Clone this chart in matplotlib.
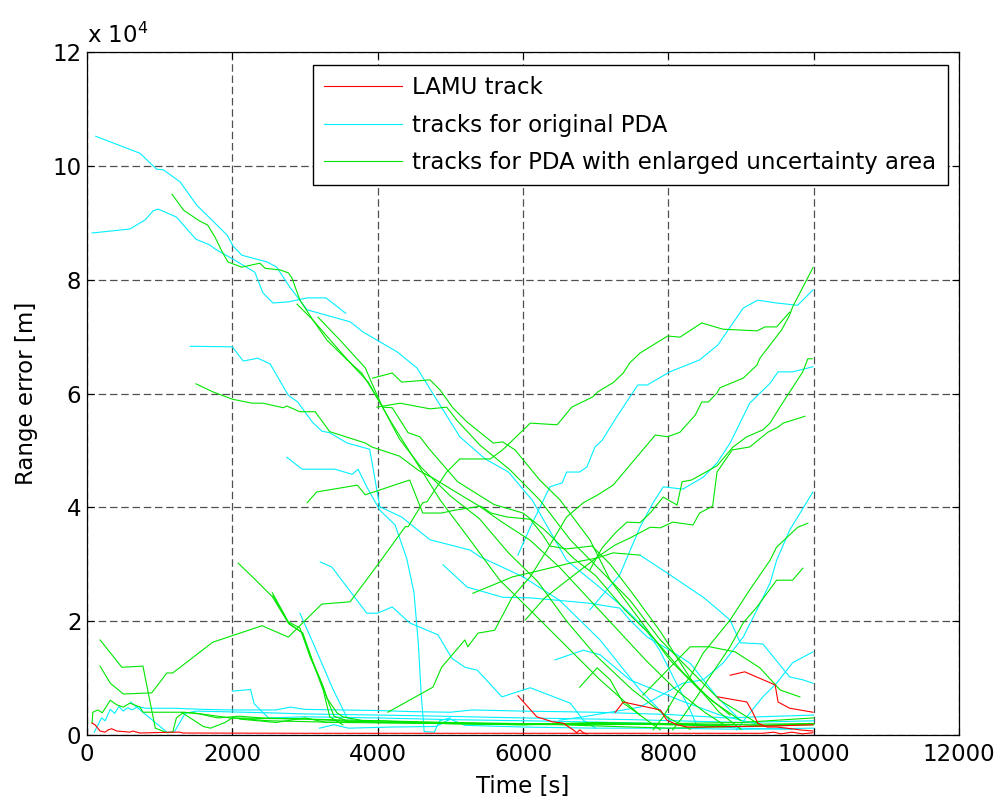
import matplotlib
matplotlib.use("Agg")
import matplotlib.pyplot as plt
from matplotlib.lines import Line2D

# range error in units of 1e4 m, time in s
# --- LAMU tracks (red) ---
lamu_1 = [(70, 0.21), (110, 0.18), (180, 0.07), (250, 0.05), (290, 0.09), (340, 0.11),
          (410, 0.07), (590, 0.05), (630, 0.07), (730, 0.035), (1180, 0.05), (1280, 0.05),
          (1320, 0.035), (3000, 0.03), (6000, 0.03), (9300, 0.03), (9450, 0.05),
          (9550, 0.02), (9700, 0.05), (9850, 0.02), (9990, 0.04)]
lamu_2 = [(5930, 0.69), (6190, 0.32), (6410, 0.23), (6550, 0.21), (6690, 0.09), (6740, 0.04),
          (6780, 0.09), (6830, 0.04), (6880, 0.02)]
lamu_3 = [(7270, 0.40), (7380, 0.58), (7890, 0.44), (7980, 0.26), (8120, 0.18), (8260, 0.14),
          (8390, 0.14), (9000, 0.15), (9500, 0.16), (9990, 0.18)]
lamu_4 = [(8850, 1.05), (9050, 1.11), (9470, 0.88), (9510, 0.58), (9670, 0.47), (9810, 0.44),
          (9990, 0.40)]
lamu_5 = [(8680, 0.67), (9080, 0.58), (9160, 0.40), (9230, 0.21), (9360, 0.14), (9490, 0.14),
          (9630, 0.12), (9810, 0.09), (9990, 0.07)]

# --- original PDA tracks (cyan) ---
pda_01 = [(120, 10.52), (730, 10.22), (960, 9.94), (1050, 9.93), (1280, 9.72), (1510, 9.31),
          (1930, 8.78), (2010, 8.59), (2130, 8.43), (2480, 8.31), (2610, 8.22), (2790, 7.87),
          (3030, 7.47), (3620, 7.26), (3800, 7.08), (4270, 6.73), (4540, 6.45), (5130, 5.24),
          (5480, 4.85), (5800, 4.62), (6130, 4.12), (6600, 3.07), (7050, 2.60), (7430, 2.19),
          (7700, 1.84), (7880, 1.49), (8110, 0.91), (8300, 0.44), (8400, 0.14)]
pda_02 = [(70, 8.82), (590, 8.89), (800, 9.05), (910, 9.21), (980, 9.24), (1230, 9.10),
          (1500, 8.71), (1690, 8.61), (1760, 8.54), (2010, 8.36), (2310, 8.13), (2420, 7.77),
          (2560, 7.59), (2770, 7.61), (3030, 7.68), (3290, 7.68), (3560, 7.41)]
pda_03 = [(1420, 6.83), (2000, 6.82), (2150, 6.57), (2350, 6.62), (2520, 6.52), (2770, 5.97),
          (2900, 5.85), (3100, 5.50), (3230, 5.34), (3340, 5.31), (3580, 5.13), (3890, 5.02),
          (4030, 4.01), (4330, 3.83), (4720, 3.43), (5270, 3.25), (5410, 3.13), (6000, 2.78),
          (6500, 2.37), (7060, 1.67), (7610, 0.79), (8020, 0.26)]
pda_04 = [(2750, 4.88), (2960, 4.67), (3410, 4.67), (3650, 4.58), (3730, 4.67), (3850, 4.36),
          (4030, 3.95), (4240, 3.69), (4400, 3.10), (4500, 2.50), (4560, 1.60), (4600, 0.70),
          (4640, 0.06), (4780, 0.05), (4850, 0.25), (5000, 0.30)]
pda_05 = [(3210, 3.04), (3370, 2.95), (3850, 2.14), (4000, 2.14), (4200, 2.25), (4440, 1.97),
          (4830, 1.76), (5020, 1.35), (5200, 1.19), (5370, 1.14), (5710, 0.67), (6000, 0.79),
          (6100, 0.83), (6650, 0.56), (6830, 0.26), (7000, 0.12)]
pda_06 = [(2930, 2.14), (3110, 1.62), (3390, 0.79), (3580, 0.30), (3650, 0.28)]
pda_07 = [(5930, 3.16), (6100, 3.65), (6370, 4.36), (6540, 4.43), (6600, 4.62), (6780, 4.62),
          (6880, 4.71), (6990, 5.06), (7090, 5.18), (7290, 5.59), (7580, 6.15), (7710, 6.15),
          (8020, 6.38), (8430, 6.59), (8680, 6.85), (9030, 7.50), (9230, 7.64), (9490, 7.59),
          (9780, 7.55), (9990, 7.82)]
pda_08 = [(6920, 2.20), (7330, 2.81), (7610, 3.65), (7790, 4.08), (7930, 4.36), (8200, 4.32),
          (8480, 4.53), (8670, 4.78), (8850, 5.13), (9120, 5.83), (9400, 6.18), (9510, 6.38),
          (9710, 6.38), (9990, 6.47)]
pda_09 = [(6500, 0.26), (6830, 0.32), (7610, 0.49), (8200, 0.91), (8480, 0.97), (8750, 1.26),
          (9030, 1.72), (9220, 2.20), (9400, 2.67), (9490, 3.07), (9670, 3.60), (9990, 4.27)]
pda_10 = [(8940, 0.09), (9080, 0.32), (9300, 0.67), (9490, 0.91), (9710, 1.27), (9990, 1.46)]
pda_11 = [(7610, 3.16), (7980, 2.85), (8480, 2.42), (8640, 2.25), (8850, 2.02), (8990, 1.62),
          (9300, 1.60), (9670, 1.02), (9850, 0.97), (9990, 0.91)]
pda_12 = [(6440, 1.32), (6830, 1.49), (7060, 1.41), (7470, 0.97), (8160, 0.61), (8710, 0.35),
          (9260, 0.18)]
pda_13 = [(4900, 2.99), (5230, 2.60), (5720, 2.42), (6100, 2.41), (6880, 2.32), (7330, 2.23),
          (7470, 2.02), (7710, 1.72), (8020, 1.49), (8300, 1.26), (8670, 0.67), (8990, 0.26)]
pda_14 = [(100, 0.05), (200, 0.30), (250, 0.25), (320, 0.45), (380, 0.38), (440, 0.50),
          (500, 0.42), (560, 0.48), (620, 0.44), (700, 0.50), (800, 0.47), (1200, 0.47),
          (1600, 0.45), (2000, 0.44), (2600, 0.44), (2800, 0.49), (3000, 0.45), (4000, 0.43),
          (4500, 0.41), (5000, 0.40), (5300, 0.44), (6000, 0.42), (7000, 0.40), (8000, 0.36),
          (8800, 0.30), (9500, 0.33), (10000, 0.35)]
pda_15 = [(600, 0.58), (1100, 0.05), (1200, 0.05), (1350, 0.38), (1500, 0.42), (2500, 0.39),
          (3000, 0.37), (4500, 0.34), (6000, 0.30), (7500, 0.27), (9000, 0.22), (10000, 0.25)]
pda_16 = [(2000, 0.77), (2250, 0.80), (2300, 0.55), (2400, 0.42), (2500, 0.30), (3000, 0.32),
          (4000, 0.30), (5000, 0.27), (6500, 0.24), (8000, 0.20), (9000, 0.12), (9700, 0.10)]
pda_17 = [(3200, 0.12), (3400, 0.18), (3600, 0.12), (4200, 0.14), (4800, 0.15), (5000, 0.28),
          (5200, 0.17), (6000, 0.14), (7000, 0.12), (8000, 0.12), (9000, 0.10), (10000, 0.12)]

# --- PDA with enlarged uncertainty area (green) ---
enl_01 = [(1170, 9.50), (1330, 9.22), (1550, 9.03), (1660, 8.96), (1760, 8.75), (1860, 8.49),
          (1940, 8.31), (2130, 8.22), (2380, 8.29), (2450, 8.20), (2660, 8.17), (2770, 8.12),
          (2820, 8.03), (2930, 7.64), (3110, 7.29), (3300, 6.94), (3580, 6.59), (3780, 6.36),
          (3870, 6.18), (4070, 5.76), (4200, 5.75), (4420, 5.31), (4580, 5.24), (4720, 5.01),
          (5100, 4.45), (5600, 4.05), (6000, 3.90), (6300, 3.60), (6700, 3.10), (7000, 2.80),
          (7400, 2.20), (7800, 1.70), (8200, 1.10), (8600, 0.60), (9000, 0.25)]
enl_02 = [(2890, 7.57), (3110, 7.29), (3380, 6.89), (3650, 6.50), (3870, 6.20), (4170, 5.53),
          (4380, 5.10), (4860, 4.13), (5270, 3.43), (5680, 2.72), (5960, 2.37), (6510, 1.67),
          (7060, 0.97), (7610, 0.35), (7890, 0.09)]
enl_03 = [(3180, 7.34), (3480, 6.94), (3830, 6.45), (3920, 6.18), (4060, 5.78), (4300, 5.20),
          (4600, 4.70), (5000, 4.20), (5400, 3.80), (5800, 3.20), (6200, 2.70), (6600, 2.00),
          (7000, 1.40), (7500, 0.80), (8000, 0.30), (8300, 0.10)]
enl_04 = [(3930, 6.27), (4200, 6.36), (4330, 6.20), (4720, 6.24), (4860, 6.06), (5040, 5.74),
          (5230, 5.50), (5590, 5.13), (5720, 5.15), (5890, 5.01), (6230, 4.48), (6510, 4.13),
          (6920, 3.43), (7200, 2.72), (7610, 2.02), (8020, 1.32), (8430, 0.79), (8850, 0.35)]
enl_05 = [(3990, 5.76), (4310, 5.83), (4720, 5.73), (4950, 5.76), (5090, 5.53), (5410, 5.09),
          (5820, 4.66), (6230, 4.13), (6650, 3.43), (7060, 2.90), (7470, 2.37), (7890, 1.67),
          (8300, 1.14), (8710, 0.61), (9260, 0.18)]
enl_06 = [(1500, 6.17), (1730, 6.03), (2000, 5.90), (2270, 5.83), (2420, 5.83), (2700, 5.75),
          (2750, 5.78), (2930, 5.68), (3140, 5.68), (3340, 5.33), (3830, 5.13), (3920, 5.06),
          (4300, 4.90), (4560, 4.65), (4780, 4.50), (5100, 4.25), (5400, 4.02), (5700, 3.75),
          (6100, 3.42), (6500, 2.95), (6900, 2.40), (7300, 1.85), (7700, 1.30), (8100, 0.80),
          (8500, 0.40), (8800, 0.15)]
enl_07 = [(3030, 4.08), (3160, 4.27), (3720, 4.39), (3830, 4.22), (4440, 4.48), (4620, 3.90),
          (4880, 3.90), (5060, 3.95), (5420, 4.02), (5560, 3.90), (5780, 3.83), (6100, 3.79),
          (6280, 3.50), (6370, 3.32), (6600, 3.27), (6950, 3.32), (7200, 3.00), (7500, 2.50),
          (7900, 1.80), (8300, 1.00), (8700, 0.40), (9000, 0.10)]
enl_08 = [(180, 1.21), (320, 0.91), (500, 0.72), (890, 0.74), (1100, 1.09), (1180, 1.09),
          (1730, 1.63), (2410, 1.92), (2770, 1.72), (3230, 2.30), (3620, 2.34), (4000, 2.99),
          (4380, 3.66), (4420, 3.66), (4620, 4.08), (4680, 4.10), (4950, 4.62), (5130, 4.85),
          (5550, 4.85), (5720, 5.01), (6100, 5.48), (6470, 5.45), (6670, 5.76), (6960, 5.94),
          (7030, 6.03), (7240, 6.19), (7380, 6.36), (7470, 6.54), (7610, 6.71), (7990, 7.01),
          (8160, 6.99), (8460, 7.24), (8750, 7.13), (9220, 7.10), (9330, 7.17), (9490, 7.17),
          (9670, 7.43)]
enl_09 = [(4140, 0.40), (4760, 0.84), (4880, 1.19), (5200, 1.67), (5240, 1.55), (5380, 1.79),
          (5610, 1.84), (5850, 2.42), (6100, 2.78), (6330, 3.25), (6470, 3.55), (6600, 3.83),
          (6830, 4.08), (7030, 4.22), (7240, 4.39), (7820, 5.27), (7990, 5.24), (8160, 5.32),
          (8370, 5.62), (8460, 5.85), (8550, 5.85), (8670, 6.01), (8710, 6.10), (9030, 6.27),
          (9220, 6.50), (9260, 6.62), (9560, 7.12), (9670, 7.38), (9710, 7.52), (9990, 8.21)]
enl_10 = [(6920, 2.90), (7090, 3.29), (7270, 3.55), (7430, 3.74), (7610, 3.73), (7750, 3.90),
          (7930, 4.18), (8120, 4.04), (8190, 4.45), (8320, 4.48), (8670, 4.73), (8890, 5.06),
          (9080, 5.24), (9300, 5.36), (9400, 5.48), (9540, 5.77), (9850, 6.38), (9920, 6.61),
          (9980, 6.61)]
enl_11 = [(6030, 2.02), (6300, 2.41), (6650, 2.76), (7060, 3.16), (7270, 3.34), (7470, 3.46),
          (7750, 3.65), (7890, 3.64), (8060, 3.74), (8340, 3.69), (8430, 3.90), (8610, 4.02),
          (8670, 4.62), (8880, 5.01), (9120, 5.06), (9370, 5.32), (9510, 5.41), (9580, 5.48),
          (9880, 5.60)]
enl_12 = [(7790, 0.09), (7930, 0.32), (8120, 0.74), (8300, 1.02), (8480, 1.44), (8850, 2.02),
          (9120, 2.55), (9400, 3.07), (9490, 3.30), (9780, 3.65), (9920, 3.72)]
enl_13 = [(8060, 0.09), (8200, 0.32), (8390, 0.67), (8570, 1.02), (8850, 1.55), (9030, 1.97),
          (9220, 2.25), (9490, 2.72), (9710, 2.72), (9850, 2.93)]
enl_14 = [(2080, 3.02), (2300, 2.75), (2550, 2.43), (2770, 1.97), (2970, 1.79), (3110, 1.27),
          (3250, 0.79), (3340, 0.32), (3520, 0.18)]
enl_15 = [(2550, 2.50), (2770, 1.99), (2930, 1.88), (3070, 1.37), (3210, 0.97), (3300, 0.65),
          (3440, 0.39), (3520, 0.32), (3800, 0.25)]
enl_16 = [(2560, 2.45), (2780, 1.95), (2960, 1.80), (3120, 1.25), (3260, 0.82), (3330, 0.55),
          (3400, 0.33), (3600, 0.24), (4500, 0.22), (5500, 0.20), (7000, 0.20), (8500, 0.18),
          (10000, 0.20)]
enl_17 = [(180, 1.67), (480, 1.19), (770, 1.21), (940, 0.12), (1100, 0.04), (1180, 0.05),
          (1230, 0.30), (1330, 0.40), (1550, 0.37), (1800, 0.30), (2100, 0.33), (2400, 0.30),
          (3000, 0.28), (4000, 0.22), (5000, 0.20), (6000, 0.18), (7000, 0.20), (8000, 0.18),
          (9000, 0.15), (10000, 0.20)]
enl_18 = [(70, 0.21), (80, 0.40), (150, 0.44), (210, 0.39), (320, 0.61), (410, 0.53),
          (500, 0.49), (590, 0.56), (730, 0.49), (770, 0.40), (1280, 0.40), (1460, 0.39),
          (1970, 0.30), (3000, 0.28), (4000, 0.25), (5000, 0.22), (6000, 0.20), (7000, 0.18),
          (8000, 0.20), (9000, 0.15), (10000, 0.18)]
enl_19 = [(7650, 0.70), (8300, 1.55), (8570, 1.55), (8920, 1.46), (9260, 1.18), (9540, 0.79),
          (9810, 0.67)]
enl_20 = [(5310, 2.49), (5860, 2.78), (6100, 2.85), (6650, 3.02), (7020, 3.11), (7240, 3.20),
          (7610, 3.16)]
enl_21 = [(6780, 0.84), (7020, 1.18), (7200, 0.97), (7380, 0.56), (7610, 0.35)]
enl_22 = [(2100, 0.28), (2600, 0.22), (3000, 0.30), (3300, 0.22), (4000, 0.25), (5000, 0.20),
          (6000, 0.18), (7000, 0.22), (8000, 0.20), (9000, 0.22), (10000, 0.30)]
enl_23 = [(1300, 0.40), (1600, 0.15), (1700, 0.12), (1900, 0.22), (2000, 0.30), (2500, 0.25),
          (3500, 0.22), (5000, 0.20), (6500, 0.18), (8000, 0.12), (9000, 0.15), (10000, 0.20)]

lamu_tracks = [lamu_1, lamu_2, lamu_3, lamu_4, lamu_5]
pda_tracks = [pda_01, pda_02, pda_03, pda_04, pda_05, pda_06, pda_07, pda_08, pda_09,
              pda_10, pda_11, pda_12, pda_13, pda_14, pda_15, pda_16, pda_17]
enl_tracks = [enl_01, enl_02, enl_03, enl_04, enl_05, enl_06, enl_07, enl_08, enl_09,
              enl_10, enl_11, enl_12, enl_13, enl_14, enl_15, enl_16, enl_17, enl_18,
              enl_19, enl_20, enl_21, enl_22, enl_23]

legend_labels = ["LAMU track", "tracks for original PDA",
                 "tracks for PDA with enlarged uncertainty area"]

RED, CYAN, GREEN = "#ff0000", "#00f0ff", "#00e600"
LW = 0.8

plt.rcParams["font.family"] = ["DejaVu Sans"]
plt.rcParams["font.size"] = 16.5

fig = plt.figure(figsize=(9.99, 8.05), dpi=100)
ax = fig.add_axes([87 / 999, 1 - 735 / 805, 872 / 999, 683 / 805])

for tracks, col in ((pda_tracks, CYAN), (enl_tracks, GREEN), (lamu_tracks, RED)):
    for tr in tracks:
        t, r = zip(*tr)
        ax.plot(t, r, color=col, lw=LW)

ax.set_xlim(0, 12000)
ax.set_ylim(0, 12)
ax.set_xticks(range(0, 12001, 2000))
ax.set_yticks(range(0, 13, 2))
ax.grid(True, color="#505050", linestyle=(0, (6, 3)), linewidth=0.9)
ax.set_axisbelow(True)
ax.tick_params(direction="in", top=True, right=True, length=5, width=0.8)
ax.tick_params(axis="x", pad=6)
ax.tick_params(axis="y", pad=4)
for s in ax.spines.values():
    s.set_linewidth(0.9)

ax.set_xlabel("Time [s]", labelpad=6)
ax.set_ylabel("Range error [m]", labelpad=10)
ax.text(0.0, 1.014, r"x 10$^{4}$", transform=ax.transAxes, ha="left", va="baseline")

handles = [Line2D([], [], color=c, lw=LW) for c in (RED, CYAN, GREEN)]
leg = ax.legend(handles, legend_labels, loc="upper right", bbox_to_anchor=(0.987, 0.981),
                borderaxespad=0, fancybox=False, framealpha=1, edgecolor="black",
                handlelength=3.4, handletextpad=0.44, labelspacing=0.62, borderpad=0.5)
leg.get_frame().set_linewidth(1.0)

fig.savefig("out.png", dpi=100)
